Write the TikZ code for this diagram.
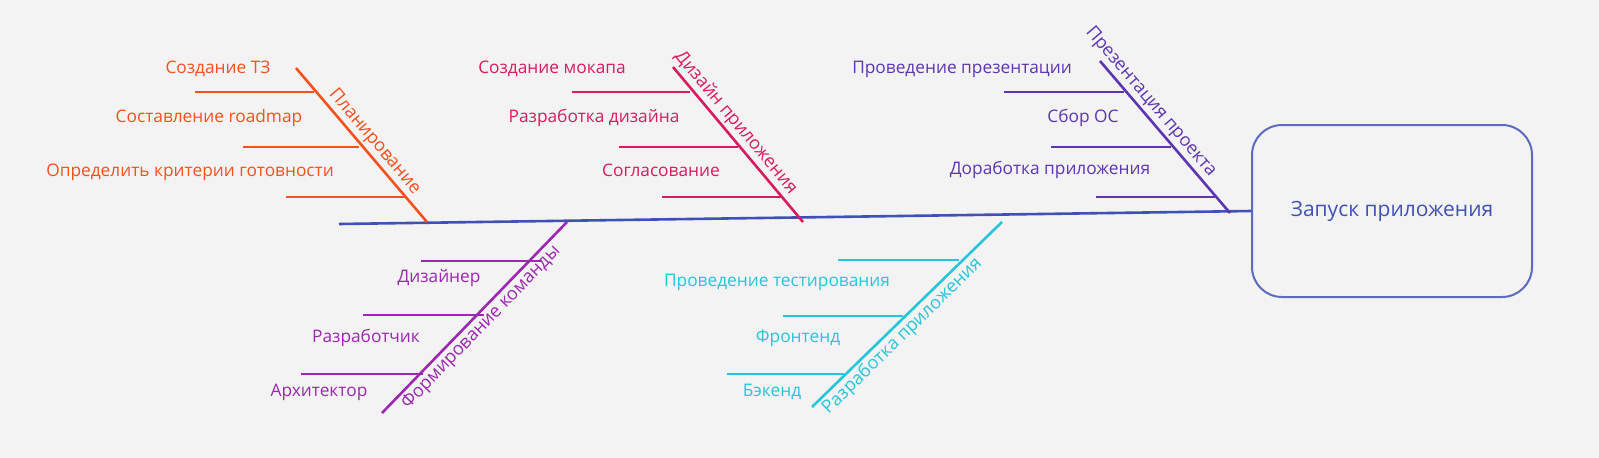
\documentclass[tikz,border=0pt]{standalone}
\usepackage{fontspec}
\setmainfont{Open Sans}
\usepackage{xcolor}
\usetikzlibrary{positioning}
\definecolor{bg}{HTML}{F3F3F3}
\definecolor{cPlan}{HTML}{F4511E}
\definecolor{cDes}{HTML}{D81B60}
\definecolor{cTeam}{HTML}{9C27B0}
\definecolor{cPres}{HTML}{5E35B1}
\definecolor{cDev}{HTML}{26C6DA}
\definecolor{cSpine}{HTML}{3F51B5}
\tikzset{
  bone/.style={line width=2.6pt},
  rib/.style={line width=2.4pt},
  item/.style={font=\fontsize{17.3}{19}\selectfont, inner sep=0pt},
  cat/.style={font=\fontsize{18}{20}\selectfont, sloped, inner sep=2pt},
}
\begin{document}
\begin{tikzpicture}[x=1pt,y=-1pt]
\fill[bg] (0,0) rectangle (1599,458);
% head
\node[draw=cSpine!85, line width=2pt, rounded corners=30pt, minimum width=280pt, minimum height=172pt,
  text=cSpine, font=\fontsize{21}{23}\selectfont] (head) at (1392,211) {Запуск приложения};
\coordinate (tail) at (339,224);
\draw[bone, cSpine] (tail) -- (head.west);
% Планирование
\coordinate (p1) at (296,68); \coordinate (p2) at (427,222);
\draw[bone, cPlan] (p1) -- node[cat, above, pos=0.53, text=cPlan] (planL) {Планирование} (p2);
\draw[rib, cPlan] (195,92) -- (314,92);
\draw[rib, cPlan] (243,147) -- (359,147);
\draw[rib, cPlan] (286,197) -- (405,197);
\node[item, text=cPlan] (plan1) at (218,69) {Создание ТЗ};
\node[item, text=cPlan] (plan2) at (209,118) {Составление roadmap};
\node[item, text=cPlan] (plan3) at (190,172) {Определить критерии готовности};
% Дизайн приложения
\coordinate (d1) at (673,67); \coordinate (d2) at (803,222);
\draw[bone, cDes] (d1) -- node[cat, above, pos=0.41, text=cDes] (desL) {Дизайн приложения} (d2);
\draw[rib, cDes] (572,92) -- (690,92);
\draw[rib, cDes] (619,147) -- (738,147);
\draw[rib, cDes] (662,197) -- (783,197);
\node[item, text=cDes] (des1) at (552,69) {Создание мокапа};
\node[item, text=cDes] (des2) at (594,118) {Разработка дизайна};
\node[item, text=cDes] (des3) at (661,170) {Согласование};
% Презентация проекта
\coordinate (r1) at (1100,61); \coordinate (r2) at (1230,213);
\draw[bone, cPres] (r1) -- node[cat, above, pos=0.32, text=cPres] (presL) {Презентация проекта} (r2);
\draw[rib, cPres] (1004,92) -- (1124,92);
\draw[rib, cPres] (1051,147) -- (1171,147);
\draw[rib, cPres] (1096,197) -- (1215,197);
\node[item, text=cPres] (pres1) at (962,69) {Проведение презентации};
\node[item, text=cPres] (pres2) at (1083,118) {Сбор ОС};
\node[item, text=cPres] (pres3) at (1050,170) {Доработка приложения};
% Формирование команды
\coordinate (t1) at (382,413); \coordinate (t2) at (567,222);
\draw[bone, cTeam] (t1) -- node[cat, below, pos=0.49, text=cTeam] (teamL) {Формирование команды} (t2);
\draw[rib, cTeam] (421,261) -- (541,261);
\draw[rib, cTeam] (363,315) -- (484,315);
\draw[rib, cTeam] (301,374) -- (423,374);
\node[item, text=cTeam] (team1) at (439,278) {Дизайнер};
\node[item, text=cTeam] (team2) at (366,338) {Разработчик};
\node[item, text=cTeam] (team3) at (319,392) {Архитектор};
% Разработка приложения
\coordinate (v1) at (812,407); \coordinate (v2) at (1002,222);
\draw[bone, cDev] (v1) -- node[cat, below, pos=0.43, text=cDev] (devL) {Разработка приложения} (v2);
\draw[rib, cDev] (838,260) -- (959,260);
\draw[rib, cDev] (783,316) -- (903,316);
\draw[rib, cDev] (727,374) -- (844,374);
\node[item, text=cDev] (dev1) at (777,282) {Проведение тестирования};
\node[item, text=cDev] (dev2) at (798,338) {Фронтенд};
\node[item, text=cDev] (dev3) at (772,392) {Бэкенд};
\pgfresetboundingbox
\useasboundingbox (0,0) rectangle (1599,458);
\end{tikzpicture}
\end{document}
